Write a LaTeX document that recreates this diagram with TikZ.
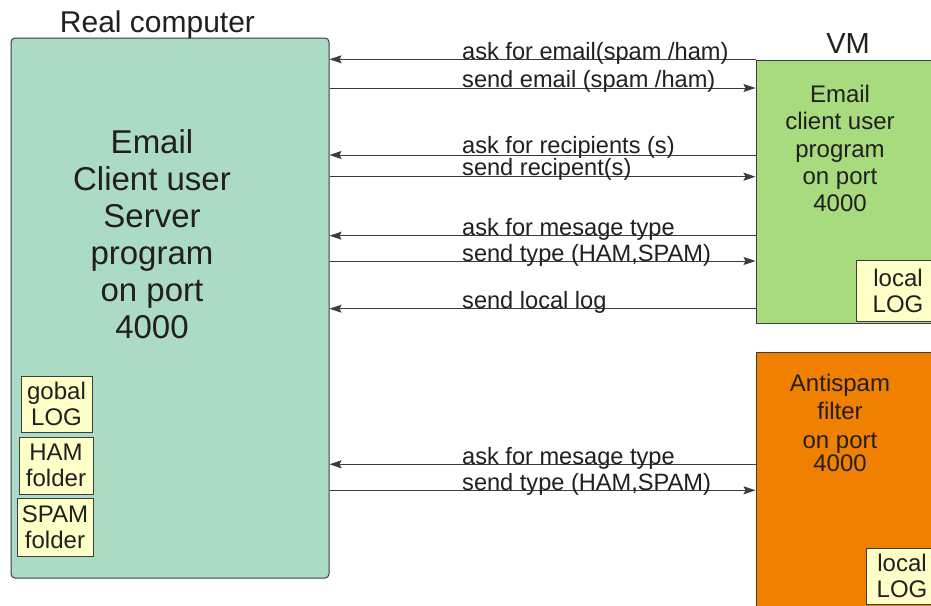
\documentclass[tikz,border=0pt]{standalone}
\usepackage{fontspec}
\setmainfont{Liberation Sans}
\usetikzlibrary{arrows.meta}
\definecolor{rcfill}{RGB}{171,218,197}
\definecolor{vmfill}{RGB}{168,218,126}
\definecolor{asfill}{RGB}{240,128,0}
\definecolor{logfill}{RGB}{255,255,200}
\definecolor{ink}{RGB}{35,31,32}
\definecolor{edgec}{RGB}{60,60,60}
\begin{document}
\begin{tikzpicture}[x=1pt,y=-1pt,
  box/.style={draw=edgec, line width=1pt, inner sep=0pt},
  logbox/.style={draw=edgec, fill=logfill, line width=0.8pt, inner sep=0pt, align=center,
    font=\fontsize{24}{26}\selectfont, text=ink},
  msg/.style={draw=edgec, line width=1pt, -{Stealth[length=12pt,width=8pt,inset=2pt]}},
  lbl/.style={anchor=base west, inner sep=0pt, font=\fontsize{23.6}{24}\selectfont, text=ink},
  big/.style={anchor=base, inner sep=0pt, align=center, text=ink}]
\clip (0,0) rectangle (931,605);
\fill[white] (0,0) rectangle (931,605);

% boxes
\node[box, fill=rcfill, rounded corners=4pt, minimum width=318pt, minimum height=540pt] (rc) at (170,308) {};
\node[box, fill=vmfill, minimum width=190pt, minimum height=263pt] (vm) at (851,191.5) {};
\node[box, fill=asfill, minimum width=190pt, minimum height=268pt] (as) at (851,486) {};

% titles
\node[big, font=\fontsize{30}{30}\selectfont] (rctitle) at (157.5,32.7) {Real computer};
\node[big, font=\fontsize{29}{29}\selectfont] (vmtitle) at (848,53.3) {VM};

% box texts (base anchor = last line's baseline)
\node[big, font=\fontsize{33}{37}\selectfont] (rctext) at (152,338.5)
  {Email\\Client user\\Server\\program\\on port\\4000};
\node[big, font=\fontsize{24}{27.2}\selectfont] (vmtext) at (840,211.5)
  {Email\\client user\\program\\on port\\4000};
\node[big, font=\fontsize{24}{27.3}\selectfont] (astext) at (840,471.7)
  {Antispam\\filter\\[1.7pt]on port\\[-3.6pt]4000};

% log boxes
\node[logbox, minimum width=71pt, minimum height=56pt] (glog) at (56.5,404) {gobal\\LOG};
\node[logbox, minimum width=74pt, minimum height=57pt] (ham) at (56,465.5) {HAM\\folder};
\node[logbox, minimum width=76pt, minimum height=58pt] (spam) at (55,527) {SPAM\\folder};
\node[logbox, minimum width=84pt, minimum height=61pt] (vmlog) at (898,290.5) {local\\LOG};
\node[logbox, minimum width=72pt, minimum height=56pt] (aslog) at (902,576) {local\\LOG};

% message rows
\coordinate (y1) at (0,59.3);
\coordinate (y2) at (0,88);
\coordinate (y3) at (0,155);
\coordinate (y4) at (0,176.7);
\coordinate (y5) at (0,235.7);
\coordinate (y6) at (0,261);
\coordinate (y7) at (0,308.7);
\coordinate (y8) at (0,464.3);
\coordinate (y9) at (0,490.3);

\draw[msg] (vm.west |- y1) -- (rc.east |- y1);
\draw[msg] (rc.east |- y2) -- (vm.west |- y2);
\draw[msg] (vm.west |- y3) -- (rc.east |- y3);
\draw[msg] (rc.east |- y4) -- (vm.west |- y4);
\draw[msg] (vm.west |- y5) -- (rc.east |- y5);
\draw[msg] (rc.east |- y6) -- (vm.west |- y6);
\draw[msg] (vm.west |- y7) -- (rc.east |- y7);
\draw[msg] (as.west |- y8) -- (rc.east |- y8);
\draw[msg] (rc.east |- y9) -- (as.west |- y9);

\node[lbl] (l1) at (462,59) {ask for email(spam /ham)};
\node[lbl] (l2) at (462,87.5) {send email (spam /ham)};
\node[lbl] (l3) at (462,153.5) {ask for recipients (s)};
\node[lbl] (l4) at (462,175) {send recipent(s)};
\node[lbl] (l5) at (462,235.5) {ask for mesage type};
\node[lbl] (l6) at (462,261) {send type (HAM,SPAM)};
\node[lbl] (l7) at (462,308.5) {send local log};
\node[lbl] (l8) at (462,464) {ask for mesage type};
\node[lbl] (l9) at (462,490) {send type (HAM,SPAM)};
\end{tikzpicture}
\end{document}
